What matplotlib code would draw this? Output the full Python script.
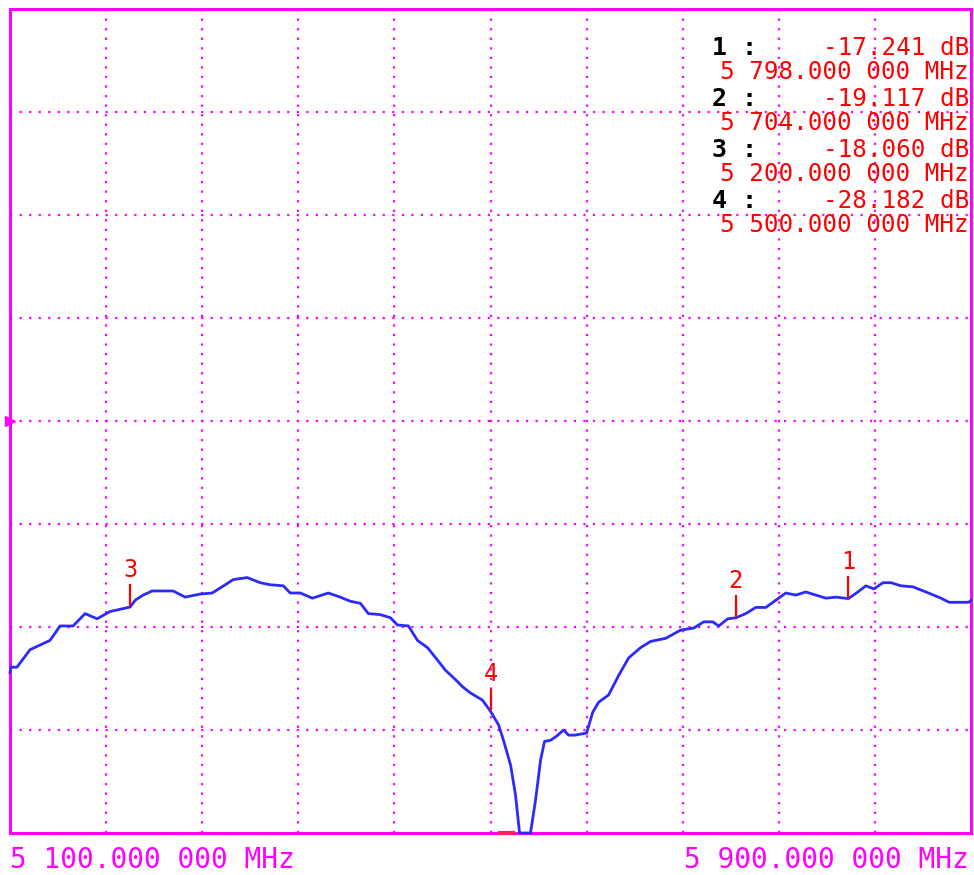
import matplotlib
matplotlib.use("Agg")
import matplotlib.pyplot as plt

# Sweep settings (MHz, dB)
f_start, f_stop = 5100, 5900
ref_level, db_per_div, n_div_y = 0, 10, 8

# Measured S-parameter trace, read along the sweep
freq = [5100, 5101, 5105.8, 5116.7, 5133.3, 5141.7, 5152.5, 5162.5, 5172.5, 5183.3,
        5200, 5204.2, 5210.8, 5218.3, 5235.8, 5245.8, 5258.3, 5268.3, 5279.2,
        5285.8, 5297.5, 5308.3, 5316.7, 5327.5, 5333.3, 5341.7, 5351.7, 5365,
        5375, 5383.3, 5391.7, 5398.3, 5408.3, 5416.7, 5422.5, 5431.7, 5439.2,
        5447.5, 5455.8, 5462.5, 5470.8, 5476.7, 5483.3, 5493.3, 5500, 5506.7,
        5510.8, 5516.7, 5520.8, 5524.2, 5533.3, 5537.5, 5541.7, 5545, 5550,
        5555, 5560.8, 5565, 5570, 5580, 5585, 5590, 5598.3, 5606.7, 5615, 5625,
        5633.3, 5645.8, 5658.3, 5669.2, 5677.5, 5685, 5690, 5697.5, 5704,
        5712.5, 5720.8, 5729.2, 5737.5, 5745.8, 5754.2, 5762.5, 5770.8, 5779.2,
        5787.5, 5798, 5805.8, 5812.5, 5819.2, 5826.7, 5833.3, 5841.7, 5851.7,
        5862.5, 5875, 5881.7, 5898.3, 5900]
s21 = [-24.4, -23.9, -23.9, -22.2, -21.3, -19.9, -19.9, -18.7, -19.2, -18.5,
       -18.06, -17.4, -16.9, -16.5, -16.5, -17.1, -16.8, -16.7, -15.9,
       -15.4, -15.2, -15.7, -15.9, -16.0, -16.7, -16.7, -17.2, -16.7,
       -17.1, -17.5, -17.7, -18.7, -18.8, -19.1, -19.8, -19.9, -21.3,
       -22.0, -23.2, -24.2, -25.1, -25.8, -26.4, -27.1, -28.182, -29.5,
       -31.0, -33.4, -36.3, -40.0, -40.0, -36.8, -32.9, -31.1, -31.0,
       -30.6, -30.0, -30.5, -30.5, -30.3, -28.3, -27.3, -26.6, -24.7, -23.0, -22.0,
       -21.4, -21.1, -20.3, -20.1, -19.5, -19.5, -19.9, -19.2, -19.117,
       -18.7, -18.1, -18.1, -17.4, -16.7, -16.9, -16.6, -16.9, -17.2,
       -17.1, -17.241, -16.6, -16.0, -16.3, -15.7, -15.7, -16.0, -16.1,
       -16.6, -17.2, -17.6, -17.6, -17.4]

# Markers: number, frequency (MHz), level (dB)
marker_ids = [1, 2, 3, 4]
marker_freq = [5798.0, 5704.0, 5200.0, 5500.0]
marker_db = [-17.241, -19.117, -18.060, -28.182]

start_label = "5 100.000 000 MHz"
stop_label = "5 900.000 000 MHz"
cursor_span = (5508, 5519)

MAGENTA = "#ff00ff"
RED = "#ff0000"
BLUE = "#2b2bff"

fig = plt.figure(figsize=(9.74, 8.75), dpi=100)
W, H = 974, 875
ax = fig.add_axes([10 / W, (H - 833) / H, 961 / W, 824 / H])

y_bot = ref_level - db_per_div * n_div_y / 2
y_top = ref_level + db_per_div * n_div_y / 2
ax.set_xlim(f_start, f_stop)
ax.set_ylim(y_bot, y_top)

# dotted graticule, 10 x 8 divisions
for i in range(1, 10):
    ax.axvline(f_start + i * (f_stop - f_start) / 10, color=MAGENTA, lw=1.6,
               ls=(0, (1, 3.3)), zorder=1)
for j in range(1, n_div_y):
    ax.axhline(y_bot + j * db_per_div, color=MAGENTA, lw=1.6,
               ls=(0, (1, 3.3)), zorder=1)

for sp in ax.spines.values():
    sp.set_color(MAGENTA)
    sp.set_linewidth(2.2)
ax.set_xticks([])
ax.set_yticks([])

ax.plot(freq, s21, color=BLUE, lw=2.0, zorder=3, clip_on=False)

# marker flags above the trace
for mid, mf, md in zip(marker_ids, marker_freq, marker_db):
    ax.plot([mf, mf], [md + 0.2, md + 2.1], color=RED, lw=1.6, zorder=4)
    ax.text(mf, md + 3.6, str(mid), color=RED, fontsize=17, ha="center",
            va="center", family="DejaVu Sans Mono", zorder=4)

# marker readout block
mono = "DejaVu Sans Mono"
for k, (mid, mf, md) in enumerate(zip(marker_ids, marker_freq, marker_db)):
    y1 = (833 - 48 - k * 51) / 824
    y2 = (833 - 72 - k * 51) / 824
    ax.text((712 - 10) / 961, y1, f"{mid} :", transform=ax.transAxes,
            family=mono, fontsize=18, fontweight="bold", color="black",
            ha="left", va="center")
    ax.text((969 - 10) / 961, y1, f"{md:.3f} dB", transform=ax.transAxes,
            family=mono, fontsize=17.5, color=RED, ha="right", va="center")
    mhz = f"{mf:,.6f}".replace(",", " ")
    mhz = mhz[:-3] + " " + mhz[-3:]
    ax.text((969 - 10) / 961, y2, f"{mhz} MHz", transform=ax.transAxes,
            family=mono, fontsize=17.5, color=RED, ha="right", va="center")

# reference level pointer on the left edge
ax.plot([f_start], [ref_level], marker=">", color=MAGENTA, markersize=7,
        clip_on=False)

# active cursor bar under the graticule
ax.plot(cursor_span, [y_bot, y_bot], color="#ff2060", lw=3, clip_on=False,
        zorder=5)

fig.text(10 / W, 1 - 860 / H, start_label, family=mono, fontsize=20,
         color=MAGENTA, ha="left", va="center")
fig.text(969 / W, 1 - 860 / H, stop_label, family=mono, fontsize=20,
         color=MAGENTA, ha="right", va="center")

fig.savefig("out.png", dpi=100, facecolor="white")
